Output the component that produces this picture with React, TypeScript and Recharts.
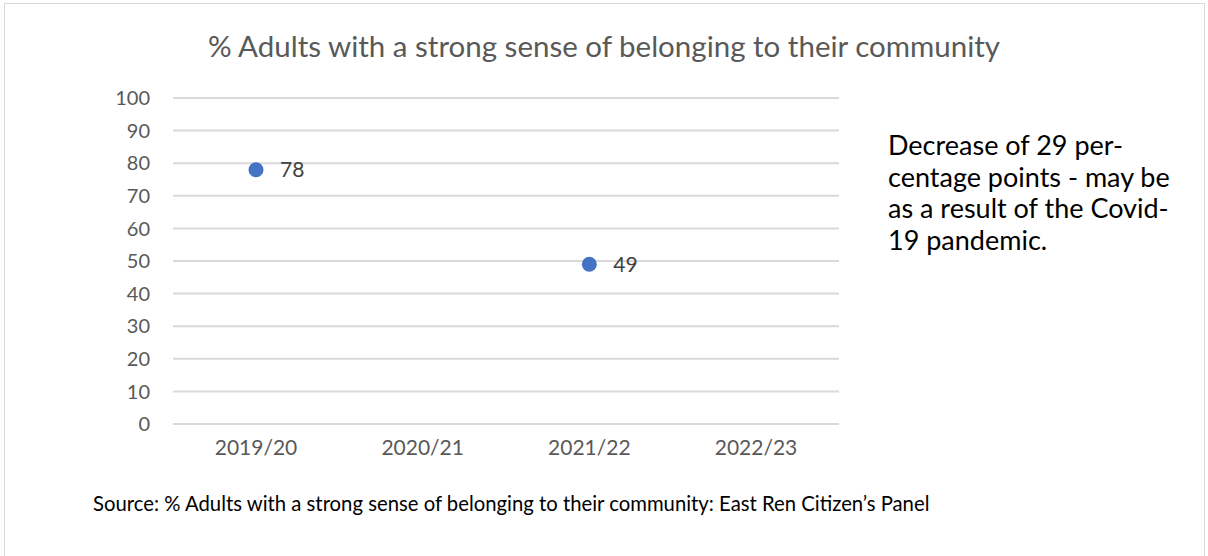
import React from 'react';
import { LineChart, Line, XAxis, YAxis, CartesianGrid, LabelList } from 'recharts';

// categories and values
const years: string[] = ['2019/20', '2020/21', '2021/22', '2022/23'];
const belonging: (number | null)[] = [78, null, 49, null];
const yTicks: number[] = [0, 10, 20, 30, 40, 50, 60, 70, 80, 90, 100];

const title = '% Adults with a strong sense of belonging to their community';
const note: string[] = [
  'Decrease of 29 per-',
  'centage points - may be',
  'as a result of the Covid-',
  '19 pandemic.',
];
const source = 'Source: % Adults with a strong sense of belonging to their community: East Ren Citizen\u2019s Panel';

const FONT = 'Lato, "Noto Sans", sans-serif';

const App = () => {
  const data = years.map((year, i) => ({ year, value: belonging[i] }));

  return (
    <div style={{ position: 'absolute', left: 0, top: 0, width: 1208, height: 556, background: '#fff', fontFamily: FONT }}>
      <div style={{ position: 'absolute', left: 4, top: 3, width: 1201, height: 560, border: '1px solid #d9d9d9', boxSizing: 'border-box' }} />
      <div style={{ position: 'absolute', left: 0, top: 28, width: 1208, textAlign: 'center', fontSize: 29.5, color: '#595959' }}>
        {title}
      </div>
      <LineChart width={1208} height={556} data={data} margin={{ top: 98, right: 369, bottom: 102, left: 0 }}>
        <CartesianGrid vertical={false} stroke="#d9d9d9" strokeWidth={2} />
        <XAxis
          dataKey="year"
          axisLine={false}
          tickLine={false}
          tickMargin={10}
          height={30}
          padding={{ left: 83, right: 83 }}
          tick={{ fill: '#595959', fontSize: 21, fontFamily: FONT }}
        />
        <YAxis
          domain={[0, 100]}
          ticks={yTicks}
          width={173}
          axisLine={false}
          tickLine={false}
          tickMargin={17}
          tick={{ fill: '#595959', fontSize: 20, fontFamily: FONT }}
        />
        <Line
          dataKey="value"
          stroke="none"
          isAnimationActive={false}
          dot={{ r: 7.5, fill: '#4472c4', stroke: 'none' }}
          activeDot={false}
        >
          <LabelList dataKey="value" position="right" offset={24} fill="#404040" fontSize={21} fontFamily={FONT} />
        </Line>
      </LineChart>
      <div style={{ position: 'absolute', left: 888, top: 129, fontSize: 27, lineHeight: '31.5px', color: '#000' }}>
        {note.map((line) => (
          <div key={line}>{line}</div>
        ))}
      </div>
      <div style={{ position: 'absolute', left: 93, top: 491, fontSize: 20.3, color: '#000' }}>{source}</div>
    </div>
  );
};

export default App;
